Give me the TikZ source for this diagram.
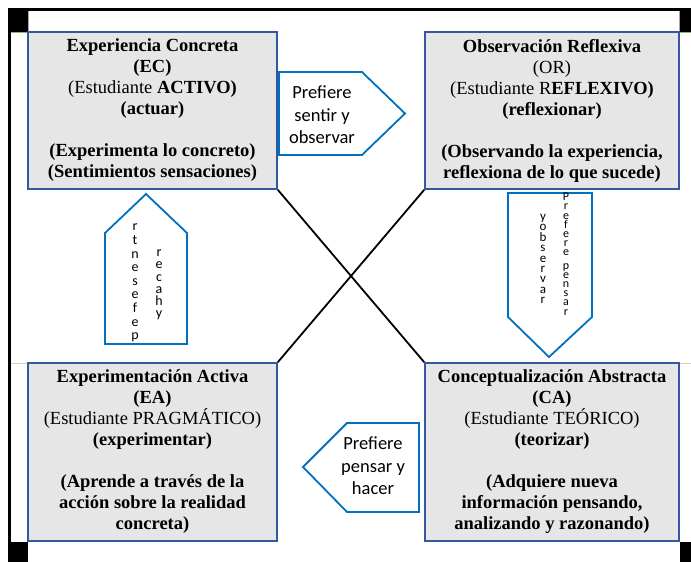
\documentclass[tikz,border=0pt]{standalone}
\usepackage{fontspec}
\setmainfont{Liberation Serif}
\newfontfamily\sansf{Carlito}
\definecolor{boxfill}{RGB}{231,230,230}
\definecolor{boxline}{RGB}{52,88,158}
\definecolor{arrblue}{RGB}{0,112,192}
\definecolor{edgegreen}{RGB}{140,180,110}
\begin{document}
\begin{tikzpicture}[x=1pt,y=-1pt,
  gbox/.style={draw=boxline,line width=1.6pt,fill=boxfill,align=center,inner sep=0pt,
    font=\fontsize{18.5}{21}\selectfont},
  blockarrow/.style={draw=arrblue,line width=1.8pt,fill=white,line join=miter},
  arrtext/.style={align=center,inner sep=0pt,font=\sansf\fontsize{18.5}{22.5}\selectfont},
  stacktext/.style={align=center,inner sep=0pt},
  cross/.style={draw=black,line width=1.8pt}]
\useasboundingbox (0,0) rectangle (691,562);
\fill[white] (0,0) rectangle (691,562);
% frame
\fill[black] (8,8) rectangle (691,10.5);
\fill[black] (8,8) rectangle (10.5,562);
\fill[black] (8,8) rectangle (28,32);
\fill[black] (680,8) rectangle (691,32);
\fill[black] (8,542) rectangle (28,562);
\fill[black] (680,542) rectangle (691,562);
\draw[gray!70,line width=0.6pt] (28,10.5) -- (28,32) (679.5,10.5) -- (679.5,32);
\draw[edgegreen,line width=0.8pt] (10.5,32.5) -- (28,32.5) (680,32.5) -- (691,32.5);
\draw[edgegreen!50,line width=0.8pt] (10.5,363) -- (28,363) (680,363) -- (691,363);

% boxes
\node[gbox,minimum width=249pt,minimum height=157pt] (ec) at (152.5,110.5)
  {\textbf{Experiencia Concreta}\\ \textbf{(EC)}\\ (Estudiante \textbf{ACTIVO)}\\ \textbf{(actuar)}\\[21pt]
   \textbf{(Experimenta lo concreto)}\\ \textbf{(Sentimientos sensaciones)}};
\node[gbox,minimum width=254pt,minimum height=157pt] (or) at (552,110.5)
  {\textbf{Observación Reflexiva}\\ (OR)\\ (Estudiante R\textbf{EFLEXIVO)}\\ \textbf{(reflexionar)}\\[21pt]
   \textbf{(Observando la experiencia,}\\ \textbf{reflexiona de lo que sucede)}};
\node[gbox,minimum width=249pt,minimum height=178pt] (ea) at (152.5,452)
  {\textbf{Experimentación Activa}\\ \textbf{(EA)}\\ (Estudiante PRAGMÁTICO)\\ \textbf{(experimentar)}\\[21pt]
   \textbf{(Aprende a través de la}\\ \textbf{acción sobre la realidad}\\ \textbf{concreta)}};
\node[gbox,minimum width=254pt,minimum height=178pt] (ca) at (552,452)
  {\textbf{Conceptualización Abstracta}\\ \textbf{(CA)}\\ (Estudiante TEÓRICO)\\ \textbf{(teorizar)}\\[21pt]
   \textbf{(Adquiere nueva}\\ \textbf{información pensando,}\\ \textbf{analizando y razonando)}};

% crossing lines
\draw[cross] (ec.south east) -- (ca.north west);
\draw[cross] (or.south west) -- (ea.north east);

% right arrow
\draw[blockarrow] (279,72) -- (362,72) -- (405,113.5) -- (362,155) -- (279,155) -- cycle;
\node[arrtext] (t1) at (322,115) {Prefiere\\sentir y\\observar};

% left arrow
\draw[blockarrow] (303,467) -- (347,423) -- (419,423) -- (419,512) -- (347,512) -- cycle;
\node[arrtext] (t2) at (373,466) {Prefiere\\pensar y\\hacer};

% up arrow
\draw[blockarrow] (146,194) -- (187,233) -- (187,344) -- (105,344) -- (105,233) -- cycle;
\node[stacktext,font=\sansf\fontsize{14}{13.6}\selectfont] (u1) at (135,283) {r\\t\\n\\e\\s\\e\\f\\e\\p};
\node[stacktext,font=\sansf\fontsize{14}{12.2}\selectfont] (u2) at (159,285) {r\\e\\c\\a\\h\\y};

% down arrow
\draw[blockarrow] (508,193) -- (592,193) -- (592,317) -- (549,357) -- (508,317) -- cycle;
\node[stacktext,font=\sansf\fontsize{13}{10.4}\selectfont] (d1) at (543,259) {y\\o\\b\\s\\e\\r\\v\\a\\r};
\node[stacktext,font=\sansf\fontsize{12}{9.2}\selectfont] (d2) at (566,254) {P\\r\\e\\f\\e\\r\\e\\[4pt]p\\e\\n\\s\\a\\r};
\end{tikzpicture}
\end{document}
